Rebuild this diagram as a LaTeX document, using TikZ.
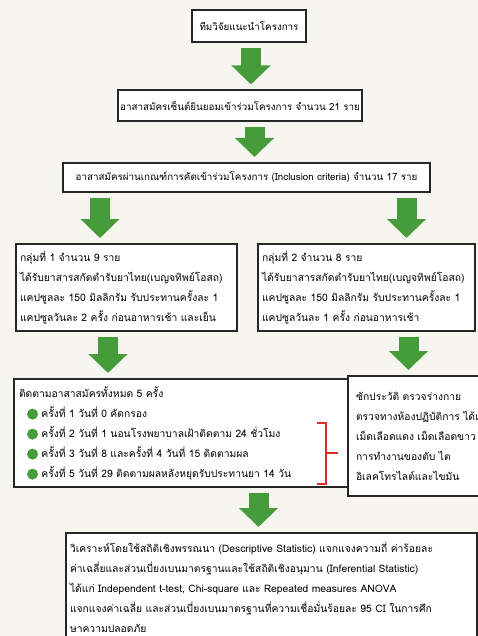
\documentclass[tikz,border=0pt]{standalone}
\usepackage{fontspec}
\newfontfamily\thaifont[Script=Thai]{Loma}
\usetikzlibrary{arrows.meta}
\definecolor{arrowgreen}{RGB}{70,156,58}
\definecolor{paper}{RGB}{247,245,240}
\definecolor{bracered}{RGB}{222,45,40}
\newcommand{\greendot}{\tikz[baseline=-3pt]\fill[arrowgreen] (0,0) circle (5.5pt);}
\begin{document}
\begin{tikzpicture}[x=1pt,y=-1pt,
	every node/.style={font=\thaifont\fontsize{9.8}{20}\selectfont},
	box/.style={draw=black!85,line width=2pt,fill=white,inner sep=0pt,align=center},
	textbox/.style={box,anchor=north west,align=left,font=\thaifont\fontsize{10.3}{20}\selectfont},
	bigarrow/.style={arrowgreen,line width=20pt,-{Triangle[width=38pt,length=19pt]},shorten <=5pt,shorten >=5pt}]
	\fill[paper] (0,0) rectangle (478,636);
	\useasboundingbox (0,0) rectangle (478,636);
	\clip (0,0) rectangle (478,636);
	% กล่องข้อความ
	\node[box,minimum width=114pt,minimum height=32pt] (team) at (249,26) {ทีมวิจัยแนะนำโครงการ};
	\node[box,minimum width=244pt,minimum height=31pt] (consent) at (240,106) {อาสาสมัครเซ็นต์ยินยอมเข้าร่วมโครงการ จำนวน 21 ราย};
	\node[box,minimum width=367pt,minimum height=29pt] (inclusion) at (246.5,177.5) {อาสาสมัครผ่านเกณฑ์การคัดเข้าร่วมโครงการ (Inclusion criteria) จำนวน 17 ราย};
	\node[textbox,inner xsep=4pt,text width=213pt,minimum height=87pt] (group1) at (15,243)
		{กลุ่มที่ 1 จำนวน 9 ราย\\
		ได้รับยาสารสกัดตำรับยาไทย(เบญจทิพย์โอสถ)\\
		แคปซูลละ 150 มิลลิกรัม รับประทานครั้งละ 1\\
		แคปซูลวันละ 2 ครั้ง ก่อนอาหารเช้า และเย็น};
	\node[textbox,inner xsep=4pt,text width=209pt,minimum height=87pt] (group2) at (257,243)
		{กลุ่มที่ 2 จำนวน 8 ราย\\
		ได้รับยาสารสกัดตำรับยาไทย(เบญจทิพย์โอสถ)\\
		แคปซูลละ 150 มิลลิกรัม รับประทานครั้งละ 1\\
		แคปซูลวันละ 1 ครั้ง ก่อนอาหารเช้า};
	\node[textbox,inner xsep=5pt,text width=325pt,minimum height=108pt] (followup) at (13,378)
		{ติดตามอาสาสมัครทั้งหมด 5 ครั้ง\\
		\hspace*{8pt}\greendot\ ครั้งที่ 1 วันที่ 0 คัดกรอง\\
		\hspace*{8pt}\greendot\ ครั้งที่ 2 วันที่ 1 นอนโรงพยาบาลเฝ้าติดตาม 24 ชั่วโมง\\
		\hspace*{8pt}\greendot\ ครั้งที่ 3 วันที่ 8 และครั้งที่ 4 วันที่ 15 ติดตามผล\\
		\hspace*{8pt}\greendot\ ครั้งที่ 5 วันที่ 29 ติดตามผลหลังหยุดรับประทานยา 14 วัน};
	\node[textbox,inner xsep=8pt,text width=200pt,minimum height=120pt] (labs) at (347,375)
		{ซักประวัติ ตรวจร่างกาย\\
		ตรวจทางห้องปฏิบัติการ ได้แก่\\
		เม็ดเลือดแดง เม็ดเลือดขาว\\
		การทำงานของตับ ไต\\
		อิเลคโทรไลต์และไขมัน};
	\node[textbox,inner xsep=4pt,inner ysep=9pt,text width=403pt] (analysis) at (65,532)
		{วิเคราะห์โดยใช้สถิติเชิงพรรณนา (Descriptive Statistic) แจกแจงความถี่ ค่าร้อยละ\\
		ค่าเฉลี่ยและส่วนเบี่ยงเบนมาตรฐานและใช้สถิติเชิงอนุมาน (Inferential Statistic)\\
		ได้แก่ Independent t-test, Chi-square และ Repeated measures ANOVA\\
		แจกแจงค่าเฉลี่ย และส่วนเบี่ยงเบนมาตรฐานที่ความเชื่อมั่นร้อยละ 95 CI ในการศึก\\
		ษาความปลอดภัย};
	% ลูกศร
	\draw[bigarrow] ([xshift=2pt]team.south) -- ([xshift=2pt]team.south |- consent.north);
	\draw[bigarrow] ([xshift=8pt]inclusion.north |- consent.south) -- ([xshift=8pt]inclusion.north);
	\draw[bigarrow] ([xshift=-26.5pt]group1.north |- inclusion.south) -- ([xshift=-26.5pt]group1.north);
	\draw[bigarrow] ([xshift=40pt]group2.north |- inclusion.south) -- ([xshift=40pt]group2.north);
	\draw[bigarrow] ([xshift=-18.5pt]group1.south) -- ([xshift=-18.5pt]group1.south |- followup.north);
	\draw[bigarrow] ([xshift=42pt]group2.south) -- ([xshift=42pt]group2.south |- labs.north);
	\draw[bigarrow] ([xshift=-13pt]analysis.north |- followup.south) -- ([xshift=-13pt]analysis.north);
	% วงเล็บสีแดง
	\draw[bracered,line width=1.6pt] (317,423) -- (326,423) -- (326,484) -- (317,484) (326,453) -- (338,453);
\end{tikzpicture}
\end{document}
